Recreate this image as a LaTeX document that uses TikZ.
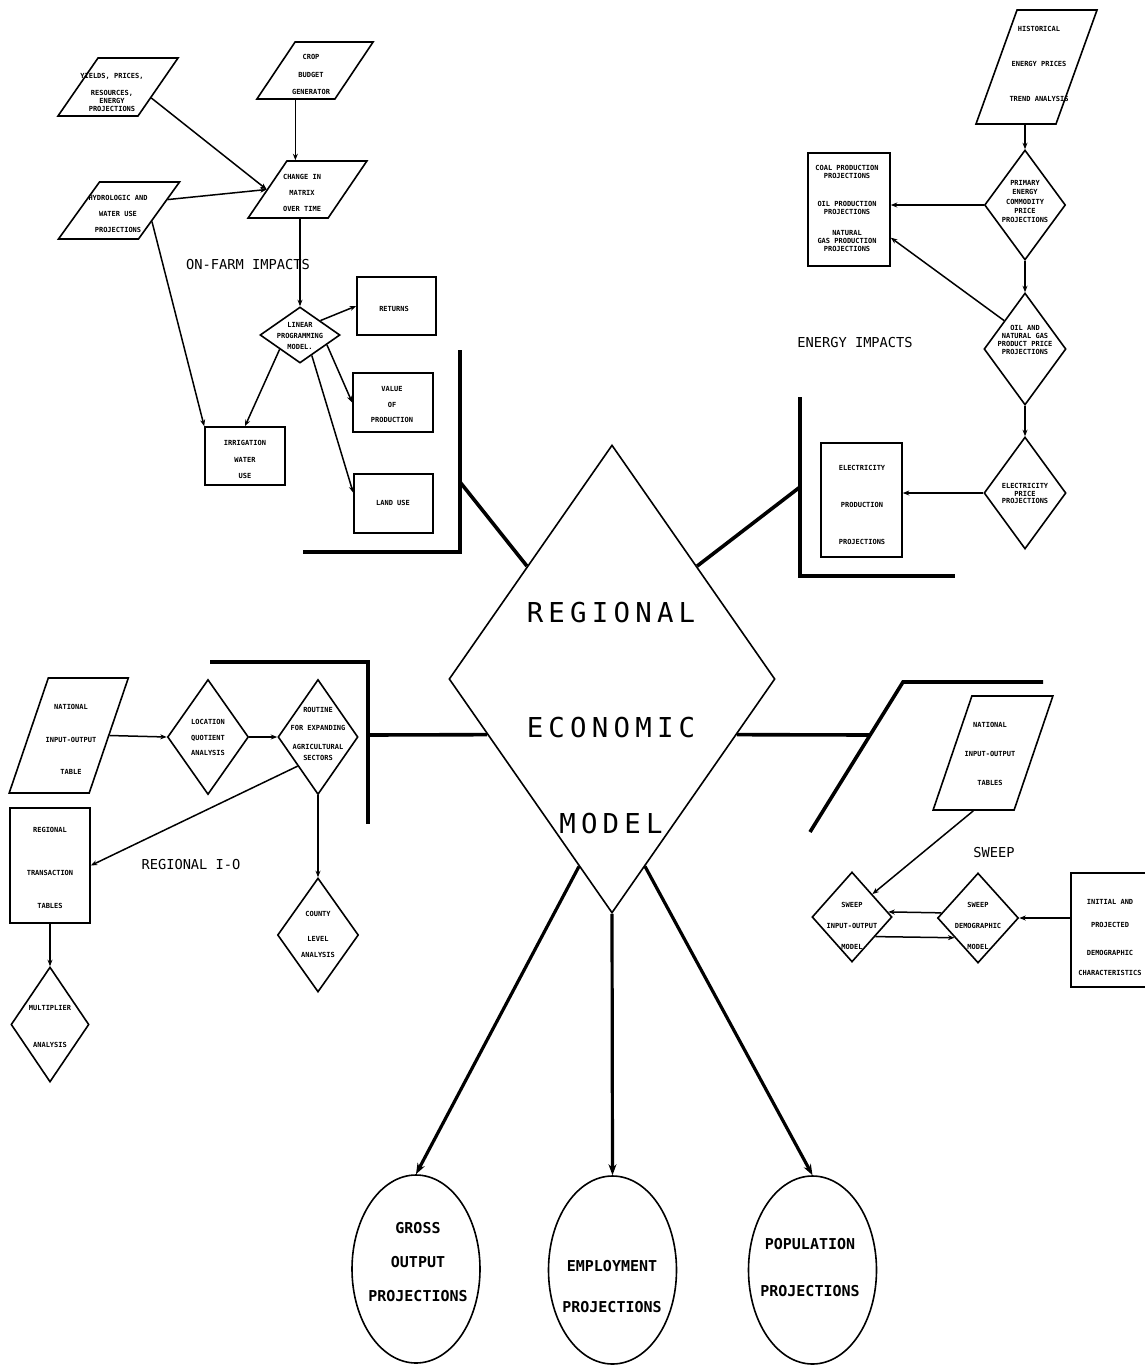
\documentclass[tikz,border=0pt]{standalone}
\usepackage{fontspec}
\usetikzlibrary{shapes.geometric,arrows.meta,calc}
\newfontfamily\smf{DejaVu Sans Mono}
\newfontfamily\labf{DejaVu Sans Mono}
\newfontfamily\bigf[LetterSpace=19]{DejaVu Sans Mono}
\begin{document}
\begin{tikzpicture}[x=1pt,y=-1pt,
  arr/.style={line width=1.5pt,-{Stealth[length=6.5pt,width=5pt]}},
  bigarr/.style={line width=3.2pt,-{Stealth[length=11pt,width=8pt]}},
  heavy/.style={line width=3.6pt},
  box/.style={draw,line width=1.6pt,rectangle,inner sep=0pt},
  dia/.style={draw,line width=1.6pt,diamond,inner sep=0pt},
  para/.style={draw,line width=1.6pt,rectangle,inner sep=0pt,transform shape},
  oval/.style={draw,line width=1.6pt,ellipse,inner sep=0pt,minimum width=128pt,minimum height=188pt},
  txt/.style={align=center,inner sep=0pt,font=\smf\bfseries\fontsize{7}{#1}\selectfont},
  txt/.default=8,
  otxt/.style={align=center,inner sep=0pt,font=\smf\bfseries\fontsize{15}{#1}\selectfont},
  lbl/.style={inner sep=0pt,font=\labf\fontsize{13.7}{16}\selectfont}]
\fill[white] (0,0) rectangle (1145,1368);
\useasboundingbox (0,0) rectangle (1145,1368);
\clip (0,0) rectangle (1145,1368);

% ---------- central model ----------
\node[dia,minimum width=326pt,minimum height=468pt] (rem) at (612,679) {};
\node[inner sep=0pt,align=center,font=\bigf\fontsize{27.4}{28}\selectfont] (remt) at (611,718.5) {REGIONAL\\[87pt]ECONOMIC\\[68pt]MODEL};

% ---------- on-farm impacts ----------
\node[para,minimum width=80pt,minimum height=58pt,xslant=0.69] (yld) at (118,87) {};
\node[txt] (yldt) at (112,92) {YIELDS, PRICES,\\[9pt]RESOURCES,\\ENERGY\\PROJECTIONS};
\node[para,minimum width=78pt,minimum height=57pt,xslant=0.67] (crop) at (315,70.5) {};
\node[txt=17.5] (cropt) at (311,74.5) {CROP\\BUDGET\\GENERATOR};
\node[para,minimum width=80pt,minimum height=57pt,xslant=0.68] (chg) at (307.5,189.5) {};
\node[txt=16] (chgt) at (302,193) {CHANGE IN\\MATRIX\\OVER TIME};
\node[para,minimum width=80pt,minimum height=57pt,xslant=0.72] (hyd) at (119,210.5) {};
\node[txt=16] (hydt) at (118,214) {HYDROLOGIC AND\\WATER USE\\PROJECTIONS};
\node[dia,minimum width=80pt,minimum height=56pt] (lp) at (300,335) {};
\node[txt=11] (lpt) at (300,336) {LINEAR\\PROGRAMMING\\MODEL.};
\node[box,minimum width=79pt,minimum height=58pt] (ret) at (396.5,306) {};
\node[txt] (rett) at (394,309) {RETURNS};
\node[box,minimum width=80pt,minimum height=59pt] (val) at (393,402.5) {};
\node[txt=15.5] (valt) at (392,404.5) {VALUE\\OF\\PRODUCTION};
\node[box,minimum width=80pt,minimum height=58pt] (irr) at (245,456) {};
\node[txt=16.5] (irrt) at (245,459.5) {IRRIGATION\\WATER\\USE};
\node[box,minimum width=79pt,minimum height=59pt] (land) at (393.5,503.5) {};
\node[txt] (landt) at (393,503) {LAND USE};
\node[lbl] (oft) at (248,265) {ON-FARM IMPACTS};

\draw[arr] (yld.-15) -- (chg.west);
\draw[arr] (hyd.15) -- (chg.west);
\draw[arr] (crop.south) -- (crop.south |- chg.north);
\draw[arr] (chg.south -| lp.north) -- (lp.north);
\draw[arr] (lp.north east) -- (ret.west);
\draw[arr] (lp.-20) -- (val.west);
\draw[arr] (lp.-60) -- (land.165);
\draw[arr] (lp.south west) -- (irr.north);
\draw[arr] (hyd.-15) -- (irr.north west);

\draw[heavy] (303,552) -- (460,552) -- (460,350);
\coordinate (ofj) at (460,482);
\draw[heavy] (ofj) -- (rem.127);

% ---------- energy impacts ----------
\node[para,minimum width=80pt,minimum height=114pt,xslant=0.36] (hist) at (1036.5,67) {};
\node[txt=35] (histt) at (1039,64) {HISTORICAL\\ENERGY PRICES\\TREND ANALYSIS};
\node[dia,minimum width=81pt,minimum height=110pt] (prim) at (1025,205) {};
\node[txt=9.3] (primt) at (1025,201.5) {PRIMARY\\ENERGY\\COMMODITY\\PRICE\\PROJECTIONS};
\node[box,minimum width=82pt,minimum height=113pt] (coal) at (849,209.5) {};
\node[txt] (coalt) at (847,208) {COAL PRODUCTION\\PROJECTIONS\\[20pt]OIL PRODUCTION\\PROJECTIONS\\[13pt]NATURAL\\GAS PRODUCTION\\PROJECTIONS};
\node[dia,minimum width=82pt,minimum height=112pt] (oil) at (1025,349) {};
\node[txt] (oilt) at (1025,340) {OIL AND\\NATURAL GAS\\PRODUCT PRICE\\PROJECTIONS};
\node[dia,minimum width=82pt,minimum height=112pt] (elp) at (1025,493) {};
\node[txt=7.6] (elpt) at (1025,493.5) {ELECTRICITY\\PRICE\\PROJECTIONS};
\node[box,minimum width=81pt,minimum height=114pt] (elpr) at (861.5,500) {};
\node[txt=37] (elprt) at (862,505) {ELECTRICITY\\PRODUCTION\\PROJECTIONS};
\node[lbl] (ent) at (855,343) {ENERGY IMPACTS};

\draw[arr] (hist.south -| prim.north) -- (prim.north);
\draw[arr] (prim.west) -- (prim.west -| coal.east);
\draw[arr] (prim.south) -- (oil.north);
\draw[arr] (oil.north west) -- (coal.-34);
\draw[arr] (oil.south) -- (elp.north);
\draw[arr] (elp.west) -- (elp.west -| elpr.east);

\draw[heavy] (800,397) -- (800,576) -- (955,576);
\coordinate (enj) at (800,487);
\draw[heavy] (enj) -- (rem.53);

% ---------- regional I-O ----------
\node[para,minimum width=80pt,minimum height=115pt,xslant=0.34] (nat) at (68.75,735.5) {};
\node[txt=32.5] (natt) at (71,739.5) {NATIONAL\\INPUT-OUTPUT\\TABLE};
\node[dia,minimum width=81pt,minimum height=115pt] (loc) at (208,737) {};
\node[txt=15.5] (loct) at (208,737.5) {LOCATION\\QUOTIENT\\ANALYSIS};
\node[dia,minimum width=80pt,minimum height=115pt] (rout) at (318,737) {};
\node[txt] (routt) at (318,734) {ROUTINE\\[10pt]FOR EXPANDING\\[11pt]AGRICULTURAL\\[3pt]SECTORS};
\node[dia,minimum width=81pt,minimum height=114pt] (cnty) at (318,935) {};
\node[txt] (cntyt) at (318,934.5) {COUNTY\\[17pt]LEVEL\\[8pt]ANALYSIS};
\node[box,minimum width=80pt,minimum height=115pt] (rtt) at (50,865.5) {};
\node[txt] (rttt) at (50,868) {REGIONAL\\[35pt]TRANSACTION\\[25pt]TABLES};
\node[dia,minimum width=78pt,minimum height=115pt] (mult) at (50,1024.5) {};
\node[txt=37] (multt) at (50,1026.5) {MULTIPLIER\\ANALYSIS};
\node[lbl] (rit) at (191,865) {REGIONAL I-O};

\draw[arr] (nat.east) -- (loc.west);
\draw[arr] (loc.east) -- (rout.west);
\draw[arr] (rout.south west) -- (rtt.east);
\draw[arr] (rout.south) -- (cnty.north);
\draw[arr] (rtt.south) -- (mult.north);

\draw[heavy] (210,662) -- (368,662) -- (368,824);
\coordinate (rij) at (368,735);
\draw[heavy] (rij) -- (rem.204);

% ---------- SWEEP ----------
\node[para,minimum width=81pt,minimum height=114pt,xslant=0.34] (nat2) at (993,753) {};
\node[txt=29] (nat2t) at (990,754) {NATIONAL\\INPUT-OUTPUT\\TABLES};
\node[dia,minimum width=80pt,minimum height=90pt] (sio) at (852,917) {};
\node[txt=21] (siot) at (852,926) {SWEEP\\INPUT-OUTPUT\\MODEL};
\node[dia,minimum width=81pt,minimum height=90pt] (sdm) at (978,918) {};
\node[txt=21] (sdmt) at (978,926) {SWEEP\\DEMOGRAPHIC\\MODEL};
\node[box,minimum width=78pt,minimum height=114pt] (init) at (1110,930) {};
\node[txt] (initt) at (1110,937.5) {INITIAL AND\\[15pt]PROJECTED\\[20pt]DEMOGRAPHIC\\[12pt]CHARACTERISTICS};
\node[lbl] (swt) at (994,853) {SWEEP};

\draw[arr] (nat2.south) -- (sio.north east);
\draw[arr] (sdm.172) -- (sio.8);
\draw[arr] (sio.-40) -- (sdm.-140);
\draw[arr] (sdm.east -| init.west) -- (sdm.east);

\draw[heavy] (1043,682) -- (903,682) -- (810,832);
\coordinate (swj) at (869,735);
\draw[heavy] (rem.336) -- (swj);

% ---------- outputs ----------
\node[oval] (gross) at (416,1269) {};
\node[otxt=34] (grosst) at (418,1262) {GROSS\\OUTPUT\\PROJECTIONS};
\node[oval] (emp) at (612.5,1270) {};
\node[otxt=41] (empt) at (612,1286.5) {EMPLOYMENT\\PROJECTIONS};
\node[oval] (pop) at (812.5,1270) {};
\node[otxt=47] (popt) at (810,1268) {POPULATION\\PROJECTIONS};

\draw[bigarr] (rem.260) -- (gross.north);
\draw[bigarr] (rem.south) -- (emp.north);
\draw[bigarr] (rem.280) -- (pop.north);
\end{tikzpicture}
\end{document}
